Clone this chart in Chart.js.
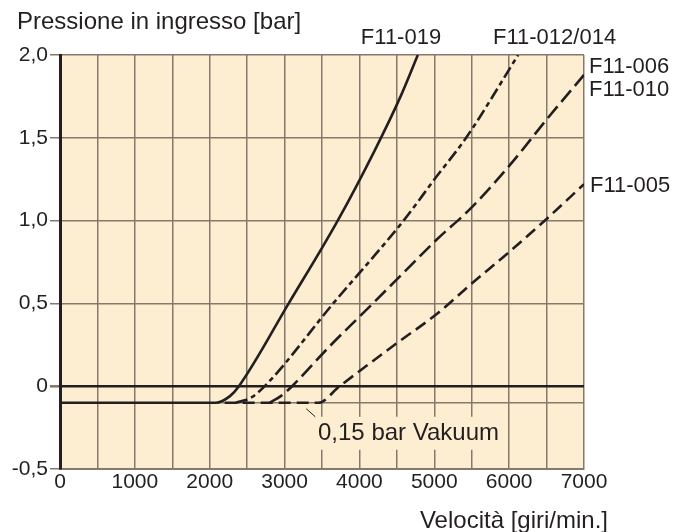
<!DOCTYPE html>
<html>
<head>
<meta charset="utf-8">
<script src="https://cdn.jsdelivr.net/npm/chart.js@4.4.1/dist/chart.umd.min.js"></script>
<style>
  html, body { margin: 0; padding: 0; background: #ffffff; }
  #wrap { width: 674px; height: 532px; }
</style>
</head>
<body>
<div id="wrap"><canvas id="chart" width="674" height="532"></canvas></div>
<script>
// assi
var xTickLabels = ['0', '1000', '2000', '3000', '4000', '5000', '6000', '7000'];
var yTicks = [-0.5, 0, 0.5, 1.0, 1.5, 2.0];
var yTickLabels = ['-0,5', '0', '0,5', '1,0', '1,5', '2,0'];
var vacuumLevel = -0.1;
var vacuumText = '0,15 bar Vakuum';

// curve: velocità [giri/min] -> pressione [bar]
var f11019Rpm = [0, 2080, 2270, 2390, 3055, 3710, 4200, 4550, 4780];
var f11019Bar = [-0.1, -0.1, -0.06, 0, 0.5, 1.0, 1.42, 1.75, 2.0];

var f11012Rpm = [2350, 2550, 2735, 3650, 4590, 5020, 5425, 6120];
var f11012Bar = [-0.1, -0.07, 0, 0.5, 1.0, 1.26, 1.5, 2.0];

var f11006Rpm = [2800, 2950, 3100, 3600, 4180, 4600, 5020, 5500, 6000, 6500, 7000];
var f11006Bar = [-0.1, -0.06, 0, 0.24, 0.5, 0.69, 0.88, 1.08, 1.33, 1.61, 1.88];

var f11005Rpm = [2200, 3450, 3735, 4500, 5045, 5500, 6000, 6500, 7000];
var f11005Bar = [-0.1, -0.1, 0, 0.26, 0.44, 0.62, 0.81, 1.01, 1.22];

var seriesNames = ['F11-019', 'F11-012/014', 'F11-006', 'F11-010', 'F11-005'];

var ink = '#231f20';
var gridGray = '#85796b';
var paper = '#fdeed2';
var fontFam = "'Liberation Sans', Arial, sans-serif";

function pts(rpm, bar) {
    return rpm.map(function (r, i) { return {x: r, y: bar[i]}; });
}

function curve(label, rpm, bar, dash) {
    return {
        label: label,
        data: pts(rpm, bar),
        borderColor: ink,
        borderWidth: 2.6,
        borderDash: dash,
        borderCapStyle: 'butt',
        pointRadius: 0,
        fill: false,
        cubicInterpolationMode: 'monotone'
    };
}

// sfondo area grafico + riquadro della nota
var paperPlugin = {
    id: 'paper',
    beforeDraw: function (chart) {
        var a = chart.chartArea, c = chart.ctx;
        c.save();
        c.fillStyle = paper;
        c.fillRect(a.left, a.top, a.right - a.left, a.bottom - a.top);
        c.restore();
    },
    beforeDatasetsDraw: function (chart) {
        var c = chart.ctx;
        var xs = chart.scales.x, ys = chart.scales.y;
        var yv = ys.getPixelForValue(vacuumLevel);
        c.save();
        c.fillStyle = paper;
        c.fillRect(312, yv + 14, 194, 33);
        c.strokeStyle = ink;
        c.lineWidth = 1;
        c.beginPath();
        c.moveTo(xs.getPixelForValue(3290), yv + 6);
        c.lineTo(xs.getPixelForValue(3410), yv + 14);
        c.stroke();
        c.fillStyle = ink;
        c.font = '24px ' + fontFam;
        c.textBaseline = 'middle';
        c.textAlign = 'left';
        c.fillText(vacuumText, 318, yv + 31);
        c.restore();
    }
};

// titoli assi e nomi delle curve
var textPlugin = {
    id: 'texts',
    afterDraw: function (chart) {
        var c = chart.ctx;
        c.save();
        c.fillStyle = ink;
        c.textBaseline = 'middle';
        c.font = '24px ' + fontFam;
        c.textAlign = 'left';
        c.fillText('Pressione in ingresso [bar]', 17, 22);
        c.textAlign = 'right';
        c.fillText('Velocità [giri/min.]', 608, 521);

        c.font = '22px ' + fontFam;
        c.textAlign = 'center';
        c.fillText(seriesNames[0], 401, 38);
        c.textAlign = 'left';
        c.fillText(seriesNames[1], 493, 38);
        c.fillText(seriesNames[2], 589, 67);
        c.fillText(seriesNames[3], 589, 90);
        c.fillText(seriesNames[4], 590, 186);
        c.restore();
    }
};

new Chart(document.getElementById('chart').getContext('2d'), {
    type: 'line',
    data: {
        datasets: [
            curve('F11-019', f11019Rpm, f11019Bar, []),
            curve('F11-012/014', f11012Rpm, f11012Bar, [12, 4, 5, 4]),
            curve('F11-006/010', f11006Rpm, f11006Bar, [15, 6]),
            curve('F11-005', f11005Rpm, f11005Bar, [12, 6])
        ]
    },
    options: {
        responsive: false,
        animation: false,
        layout: {padding: {top: 55, right: 90, left: 0, bottom: 0}},
        plugins: {
            legend: {display: false},
            tooltip: {enabled: false}
        },
        scales: {
            x: {
                type: 'linear',
                min: 0,
                max: 7000,
                afterFit: function (s) { s.height = 63; },
                ticks: {
                    stepSize: 500,
                    autoSkip: false,
                    maxRotation: 0,
                    padding: 1,
                    color: ink,
                    font: {family: fontFam, size: 21},
                    callback: function (v) {
                        return v % 1000 === 0 ? xTickLabels[v / 1000] : '';
                    }
                },
                grid: {
                    color: gridGray,
                    lineWidth: 1.5,
                    drawTicks: false
                },
                border: {color: gridGray, width: 2}
            },
            y: {
                type: 'linear',
                min: -0.5,
                max: 2,
                afterFit: function (s) { s.width = 60; },
                afterBuildTicks: function (s) {
                    s.ticks = yTicks.concat([vacuumLevel])
                        .sort(function (a, b) { return a - b; })
                        .map(function (v) { return {value: v}; });
                },
                ticks: {
                    padding: 2,
                    color: ink,
                    font: {family: fontFam, size: 21},
                    callback: function (v) {
                        var i = yTicks.indexOf(v);
                        return i >= 0 ? yTickLabels[i] : '';
                    }
                },
                grid: {
                    color: function (ctx) {
                        return ctx.tick && ctx.tick.value === 0 ? ink : gridGray;
                    },
                    lineWidth: function (ctx) {
                        return ctx.tick && ctx.tick.value === 0 ? 2.6 : 1.5;
                    },
                    tickColor: function (ctx) {
                        return ctx.tick && ctx.tick.value === vacuumLevel ? 'rgba(0,0,0,0)' : gridGray;
                    },
                    tickLength: 10
                },
                border: {color: ink, width: 3}
            }
        }
    },
    plugins: [paperPlugin, textPlugin]
});
</script>
</body>
</html>
